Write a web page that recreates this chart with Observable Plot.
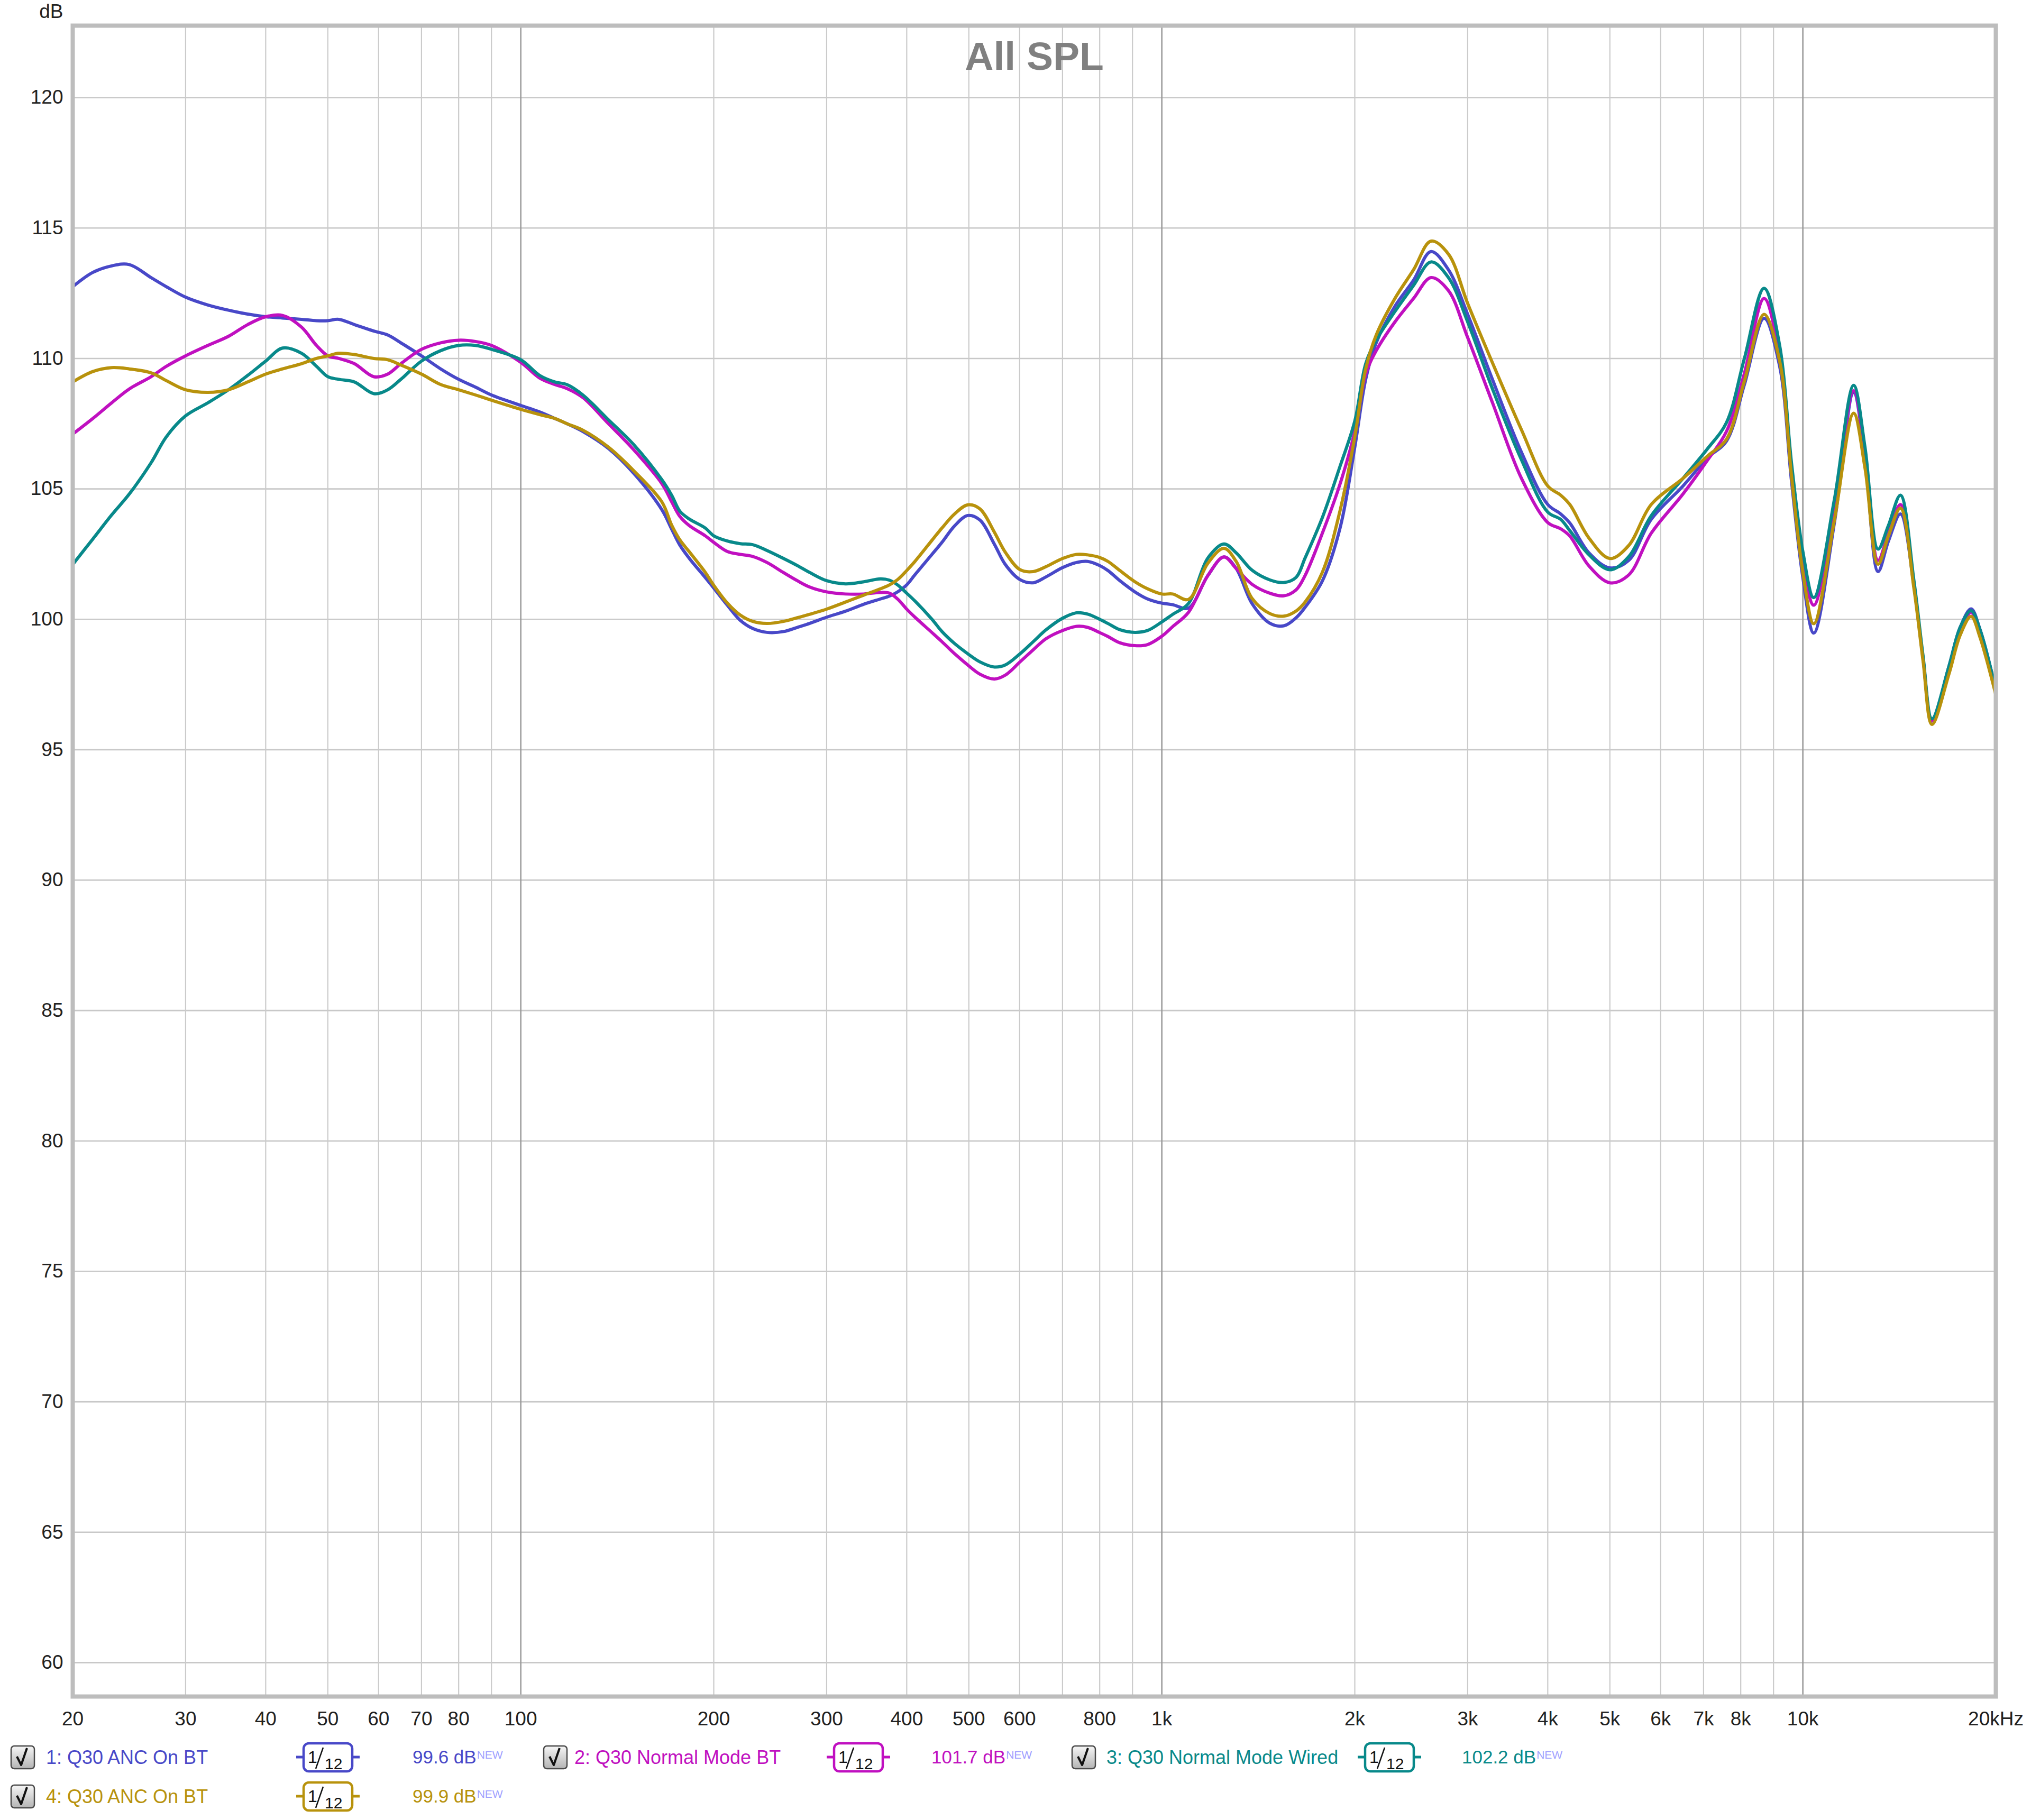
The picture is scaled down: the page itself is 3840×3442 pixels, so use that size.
<!DOCTYPE html>
<html><head><meta charset="utf-8">
<script src="https://cdn.jsdelivr.net/npm/d3@7"></script>
<script src="https://cdn.jsdelivr.net/npm/@observablehq/plot@0.6"></script>
<style>
html,body{margin:0;padding:0;background:#fff;}
#wrap{position:relative;width:3840px;height:3442px;overflow:hidden;}
#chart{position:absolute;left:0;top:0;}
#legend{position:absolute;left:0;top:3290px;}
</style></head>
<body><div id="wrap"><div id="chart"></div><div id="legend"></div></div>
<script>
// ---------- DATA ----------
const freq = [
  20, 21.5, 23, 24.5, 26.5, 28, 30, 32.5, 35, 37.5, 40, 42.5, 45.5, 48, 50, 52, 55, 59, 62, 65, 70, 75, 80, 85, 90, 100,
  107, 113, 118, 125, 137, 150, 166, 172, 177, 183, 194, 200,
  210, 220, 230, 242, 257, 270, 282, 300, 321, 343, 364, 376, 387, 400, 412, 438, 454, 475, 498, 520, 548, 570, 601, 630, 660, 700, 737, 766, 800, 824, 860, 908, 950, 1000,
  1040, 1100, 1180, 1250, 1306, 1383, 1474, 1550, 1620, 1673, 1780, 1897, 2000,
  2080, 2160, 2310, 2470, 2630, 2800, 3000, 3280, 3640, 4000, 4190, 4330, 4640, 5000, 5350, 5800, 6500, 7100, 7600, 8100, 8700, 9200, 9600, 10000, 10400, 11200, 12000, 12500, 13100, 13600, 14200, 14900, 15400, 15900, 16900, 17600, 18300, 18900, 20000
];
const ancOnBT1 = [
  112.75, 113.3, 113.55, 113.6, 113.1, 112.75, 112.35, 112.05, 111.85, 111.7, 111.6, 111.55, 111.5, 111.45, 111.45, 111.5, 111.3, 111.05, 110.9, 110.6, 110.1, 109.6, 109.2, 108.9, 108.6, 108.2,
  107.95, 107.7, 107.5, 107.2, 106.55, 105.6, 104.2, 103.45, 102.85, 102.35, 101.6, 101.2,
  100.54, 99.96, 99.65, 99.5, 99.53, 99.69, 99.84, 100.08, 100.31, 100.58, 100.78, 100.89, 101.05, 101.32, 101.71, 102.49, 102.95, 103.58, 103.98, 103.81, 102.88, 102.1, 101.52, 101.4, 101.63, 101.98, 102.18, 102.22, 102.06, 101.87, 101.48, 101.05, 100.78, 100.62,
  100.56, 100.43, 101.68, 102.39, 101.95, 100.6, 99.85, 99.75, 100.06, 100.46, 101.47, 103.5, 106.6,
  109.2, 110.6, 112.0, 113.0, 114.1, 113.4, 111.69, 109.19, 106.4, 104.4, 104.04, 103.69, 102.54, 101.97, 102.26, 103.83, 105.11, 106.19, 106.83, 108.97, 111.54, 109.7, 105.3, 101.6, 99.47, 103.7, 108.69, 106.2, 101.83, 103.0, 104.04, 101.3, 98.5, 96.1, 98.2, 99.7, 100.4, 99.6, 97.3
];
const normalBT = [
  107.1, 107.7, 108.3, 108.83, 109.3, 109.7, 110.1, 110.5, 110.85, 111.3, 111.6, 111.65, 111.2, 110.5, 110.1, 110.0, 109.8, 109.3, 109.4, 109.8, 110.35, 110.6, 110.7, 110.65, 110.5, 109.85,
  109.25, 109.0, 108.85, 108.5, 107.5, 106.5, 105.2, 104.5, 103.95, 103.6, 103.2, 102.95,
  102.6, 102.49, 102.41, 102.18, 101.79, 101.48, 101.24, 101.05, 100.97, 100.97, 101.03, 101.0, 100.78, 100.39, 100.08, 99.49, 99.14, 98.68, 98.25, 97.9, 97.71, 97.86, 98.37, 98.83, 99.26, 99.57, 99.73, 99.69, 99.49, 99.34, 99.1, 98.99, 99.03, 99.35,
  99.72, 100.26, 101.68, 102.39, 101.95, 101.34, 101.0, 100.9, 101.13, 101.68, 103.3, 105.19, 107.2,
  109.4, 110.3, 111.4, 112.3, 113.1, 112.6, 110.8, 108.3, 105.4, 103.71, 103.47, 103.19, 102.04, 101.4, 101.7, 103.3, 104.8, 106.1, 107.2, 109.4, 112.3, 110.1, 105.7, 102.2, 100.54, 104.3, 108.76, 106.4, 102.26, 103.3, 104.4, 101.3, 98.5, 96.1, 98.1, 99.6, 100.26, 99.5, 97.25
];
const normalWired = [
  102.1, 103.08, 104.0, 104.8, 106.0, 107.0, 107.8, 108.3, 108.8, 109.35, 109.9, 110.4, 110.2, 109.7, 109.3, 109.2, 109.1, 108.65, 108.8, 109.2, 109.9, 110.3, 110.5, 110.5, 110.35, 109.95,
  109.35, 109.1, 109.0, 108.6, 107.65, 106.7, 105.35, 104.75, 104.15, 103.85, 103.5, 103.2,
  103.0, 102.9, 102.86, 102.64, 102.33, 102.06, 101.8, 101.48, 101.36, 101.44, 101.55, 101.5, 101.32, 101.0, 100.7, 100.0, 99.53, 99.07, 98.68, 98.37, 98.17, 98.25, 98.68, 99.14, 99.6, 100.04, 100.25, 100.2, 100.0, 99.84, 99.6, 99.5, 99.57, 99.9,
  100.19, 100.6, 102.35, 102.89, 102.55, 101.88, 101.51, 101.41, 101.61, 102.35, 103.9, 105.87, 107.6,
  109.8, 110.7, 111.8, 112.8, 113.7, 113.1, 111.4, 108.83, 106.11, 104.11, 103.83, 103.4, 102.47, 101.9, 102.4, 103.97, 105.4, 106.54, 107.54, 109.97, 112.69, 110.5, 106.0, 102.6, 100.83, 104.6, 108.97, 106.6, 102.69, 103.6, 104.76, 101.5, 98.6, 96.19, 98.2, 99.7, 100.33, 99.6, 97.3
];
const ancOnBT4 = [
  109.1, 109.5, 109.65, 109.6, 109.45, 109.15, 108.8, 108.7, 108.8, 109.1, 109.4, 109.6, 109.8, 110.0, 110.1, 110.2, 110.15, 110.0, 109.95, 109.75, 109.4, 109.0, 108.8, 108.6, 108.4, 108.05,
  107.85, 107.7, 107.5, 107.25, 106.6, 105.7, 104.5, 103.6, 103.05, 102.6, 101.8, 101.3,
  100.62, 100.16, 99.92, 99.84, 99.92, 100.06, 100.19, 100.39, 100.66, 100.93, 101.17, 101.32, 101.52, 101.87, 102.22, 103.03, 103.5, 104.04, 104.39, 104.24, 103.34, 102.57, 101.9, 101.83, 102.02, 102.33, 102.49, 102.47, 102.37, 102.22, 101.87, 101.44, 101.17, 100.97,
  100.97, 100.76, 102.15, 102.72, 102.22, 100.8, 100.22, 100.12, 100.32, 100.66, 101.8, 104.17, 107.0,
  109.6, 110.9, 112.3, 113.4, 114.5, 114.0, 112.11, 109.83, 107.26, 105.11, 104.76, 104.4, 103.11, 102.33, 102.83, 104.4, 105.4, 106.26, 106.9, 109.11, 111.69, 109.9, 105.5, 101.8, 99.83, 103.8, 107.9, 105.8, 102.11, 103.2, 104.26, 101.2, 98.4, 95.97, 97.9, 99.4, 100.11, 99.3, 97.1
];
const seriesNames  = ["1: Q30 ANC On BT", "2: Q30 Normal Mode BT", "3: Q30 Normal Mode Wired", "4: Q30 ANC On BT"];
const seriesLevels = ["99.6 dB", "101.7 dB", "102.2 dB", "99.9 dB"];
const seriesSmoothing = ["12", "12", "12", "12"];
const seriesValues = [ancOnBT1, normalBT, normalWired, ancOnBT4];
const seriesColors = ["#4848c8", "#c010c0", "#08898a", "#b8920c"];

const xTickValues = [20, 30, 40, 50, 60, 70, 80, 100, 200, 300, 400, 500, 600, 800, 1000, 2000, 3000, 4000, 5000, 6000, 7000, 8000, 10000, 20000];
const xTickLabels = ["20", "30", "40", "50", "60", "70", "80", "100", "200", "300", "400", "500", "600", "800", "1k", "2k", "3k", "4k", "5k", "6k", "7k", "8k", "10k", "20kHz"];
const yTickValues = [60, 65, 70, 75, 80, 85, 90, 95, 100, 105, 110, 115, 120];
const titleText = "All SPL";
const yUnit = "dB";

// ---------- DERIVED ----------
const decades = [10, 100, 1000, 10000];
const minorGrid = [], majorGrid = [];
for (const d of decades) for (let k = 1; k <= 9; k++) {
  const f = d * k;
  if (f < 20 || f > 20000) continue;
  if (k === 1 && d >= 100) majorGrid.push(f); else minorGrid.push(f);
}
const xTicks = xTickValues.map((v, i) => ({v, label: xTickLabels[i]}));
const rows = seriesValues.map((vals, s) => freq.map((f, i) => ({freq: f, spl: vals[i], series: seriesNames[s]})));

const FONT = "'Liberation Sans', Arial, Helvetica, sans-serif";

const chart = Plot.plot({
  width: 3840, height: 3290,
  marginLeft: 137, marginRight: 67, marginTop: 48, marginBottom: 82,
  style: {fontFamily: FONT, fontSize: "37px", color: "#222", background: "#fff"},
  x: {type: "log", domain: [20, 20000], axis: null},
  y: {domain: [58.70, 122.76], axis: null},
  marks: [
    Plot.ruleY(yTickValues, {stroke: "#c8c8c8", strokeWidth: 2.6}),
    Plot.ruleX(minorGrid, {stroke: "#cbcbcb", strokeWidth: 2.2}),
    Plot.ruleX(majorGrid, {stroke: "#9a9a9a", strokeWidth: 2.6}),
    ...rows.map((r, s) => Plot.line(r, {x: "freq", y: "spl", stroke: seriesColors[s], strokeWidth: 6, curve: "catmull-rom"})),
    Plot.frame({stroke: "#bdbdbd", strokeWidth: 8}),
    Plot.text(xTicks, {x: "v", text: "label", frameAnchor: "bottom", dy: 28, lineAnchor: "top", fontSize: 37, fill: "#222"}),
    Plot.text(yTickValues, {y: d => d, text: d => String(d), frameAnchor: "left", dx: -18, textAnchor: "end", lineAnchor: "middle", fontSize: 37, fill: "#222"}),
    Plot.text([titleText], {text: d => d, frameAnchor: "top", dy: 83, lineAnchor: "bottom", fontSize: 75, fontWeight: "bold", fill: "#808080"}),
    Plot.text([yUnit], {text: d => d, frameAnchor: "top-left", dx: -18, dy: -15, textAnchor: "end", lineAnchor: "bottom", fontSize: 37, fill: "#222"})
  ]
});
document.getElementById("chart").appendChild(chart);

// ---------- LEGEND ----------
const slots = [
  {cb: 21, label: 87, badge: 620, value: 780, cy: 33},
  {cb: 1028, label: 1086, badge: 1623, value: 1761, cy: 33},
  {cb: 2027, label: 2092, badge: 2627, value: 2764, cy: 33},
  {cb: 21, label: 87, badge: 620, value: 780, cy: 107}
];
const lsvg = d3.create("svg").attr("width", 3840).attr("height", 152)
  .style("font-family", FONT).style("display", "block");
const defs = lsvg.append("defs");
const grad = defs.append("linearGradient").attr("id", "cbg").attr("x1", 0).attr("y1", 0).attr("x2", 0).attr("y2", 1);
grad.append("stop").attr("offset", "0%").attr("stop-color", "#f6f6f6");
grad.append("stop").attr("offset", "100%").attr("stop-color", "#b4b4b4");

seriesNames.forEach((name, i) => {
  const s = slots[i], c = seriesColors[i], cy = s.cy;
  const g = lsvg.append("g");
  // checkbox
  g.append("rect").attr("x", s.cb).attr("y", cy - 21).attr("width", 44).attr("height", 43).attr("rx", 6)
    .attr("fill", "url(#cbg)").attr("stroke", "#4a4a4a").attr("stroke-width", 2.5);
  g.append("path")
    .attr("d", `M${s.cb + 11},${cy - 1} L${s.cb + 19},${cy + 15} L${s.cb + 30},${cy - 17}`)
    .attr("fill", "none").attr("stroke", "#111").attr("stroke-width", 4).attr("stroke-linejoin", "round");
  // label
  g.append("text").attr("x", s.label).attr("y", cy + 13).attr("font-size", 36).attr("fill", c).text(name);
  // smoothing badge
  g.append("line").attr("x1", s.badge - 60).attr("x2", s.badge + 60).attr("y1", cy).attr("y2", cy)
    .attr("stroke", c).attr("stroke-width", 5);
  g.append("rect").attr("x", s.badge - 46).attr("y", cy - 26).attr("width", 92).attr("height", 53).attr("rx", 10)
    .attr("fill", "#fff").attr("stroke", c).attr("stroke-width", 4.5);
  g.append("text").attr("x", s.badge - 29).attr("y", cy + 11).attr("text-anchor", "middle")
    .attr("font-size", 32).attr("fill", "#111").text("1");
  g.append("line").attr("x1", s.badge - 9).attr("y1", cy - 18).attr("x2", s.badge - 23).attr("y2", cy + 22)
    .attr("stroke", "#111").attr("stroke-width", 2.5);
  g.append("text").attr("x", s.badge - 6).attr("y", cy + 23).attr("font-size", 30).attr("fill", "#111").text(seriesSmoothing[i]);
  // level
  const t = g.append("text").attr("x", s.value).attr("y", cy + 12).attr("font-size", 35).attr("fill", c);
  t.append("tspan").text(seriesLevels[i]);
  t.append("tspan").attr("dx", 1).attr("dy", -9).attr("font-size", 21).attr("fill", "#a0a0ff").text("NEW");
});
document.getElementById("legend").appendChild(lsvg.node());
</script>
</body></html>
